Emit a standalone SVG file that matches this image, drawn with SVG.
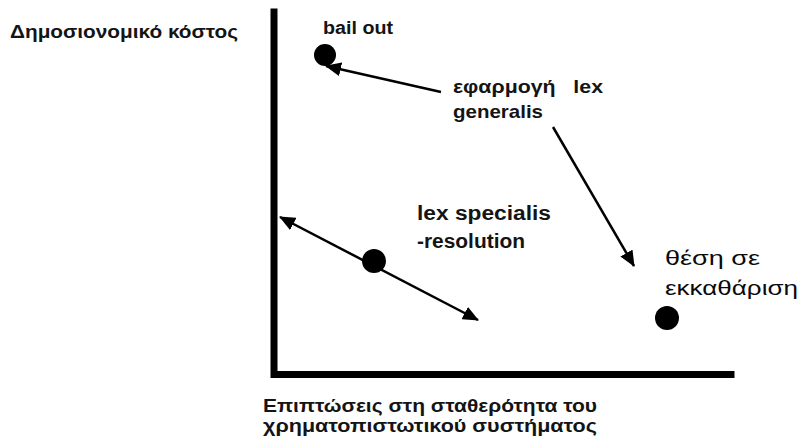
<svg xmlns="http://www.w3.org/2000/svg" width="801" height="438" viewBox="0 0 801 438">
<style>
.t{font-family:"Liberation Sans",Arial,sans-serif;font-weight:bold;fill:#141414;white-space:pre}
.r{font-weight:normal;fill:#0a0a0a}
.ax{stroke:#000;stroke-width:7;fill:none;stroke-linecap:square;stroke-linejoin:miter}
.ln{stroke:#000;stroke-width:2.5;fill:none}
.dot{fill:#000}
</style>
<defs>
<marker id="ah" markerUnits="userSpaceOnUse" markerWidth="16" markerHeight="14" viewBox="0 0 16 14" refX="15" refY="7" orient="auto-start-reverse">
<path d="M0,0 L16,7 L0,14 z" fill="#000"/>
</marker>
</defs>
<g id="axes">
<path class="ax" d="M274,12 L274,374.5 L731,374.5"/>
</g>
<g id="label-y"><text class="t" x="10" y="38" font-size="19" textLength="228" lengthAdjust="spacingAndGlyphs">Δημοσιονομικό κόστος</text></g>
<g id="label-x">
<text class="t" x="263" y="412" font-size="17.5" textLength="334" lengthAdjust="spacingAndGlyphs">Επιπτώσεις στη σταθερότητα του</text>
<text class="t" x="263" y="432" font-size="17.5" textLength="334" lengthAdjust="spacingAndGlyphs">χρηματοπιστωτικού συστήματος</text>
</g>
<g id="node-bailout">
<circle class="dot" cx="325" cy="55" r="11"/>
<text class="t" x="323" y="34" font-size="18" textLength="70" lengthAdjust="spacingAndGlyphs">bail out</text>
</g>
<g id="node-lexgeneralis">
<text class="t" x="453" y="93" font-size="19" textLength="150" lengthAdjust="spacingAndGlyphs" xml:space="preserve">εφαρμογή   lex</text>
<text class="t" x="453" y="118" font-size="19" textLength="90" lengthAdjust="spacingAndGlyphs">generalis</text>
</g>
<g id="node-lexspecialis">
<circle class="dot" cx="374" cy="261" r="12"/>
<text class="t" x="417" y="220" font-size="19.5" textLength="134" lengthAdjust="spacingAndGlyphs">lex specialis</text>
<text class="t" x="417" y="248" font-size="19.5" textLength="108" lengthAdjust="spacingAndGlyphs">-resolution</text>
</g>
<g id="node-liquidation">
<circle class="dot" cx="667" cy="318" r="12"/>
<text class="t r" x="665" y="265" font-size="20" textLength="95" lengthAdjust="spacingAndGlyphs">θέση σε</text>
<text class="t r" x="665" y="295" font-size="20" textLength="133" lengthAdjust="spacingAndGlyphs">εκκαθάριση</text>
</g>
<g id="connectors">
<line class="ln" x1="441" y1="92" x2="326" y2="66" marker-end="url(#ah)"/>
<line class="ln" x1="553" y1="127" x2="634" y2="266" marker-end="url(#ah)"/>
<line class="ln" x1="280" y1="217" x2="478" y2="320" marker-start="url(#ah)" marker-end="url(#ah)"/>
</g>
</svg>
